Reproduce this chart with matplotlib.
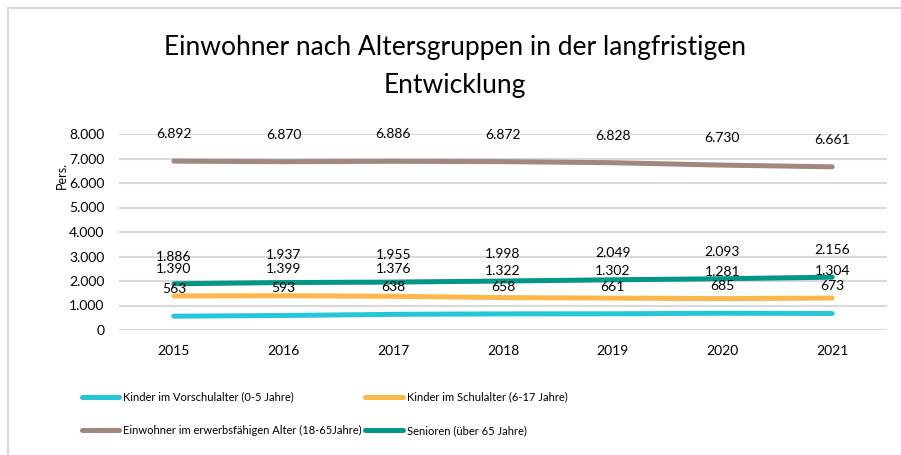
import numpy as np
import matplotlib.pyplot as plt
from matplotlib.lines import Line2D

years = ["2015", "2016", "2017", "2018", "2019", "2020", "2021"]
vorschule = [563, 593, 638, 658, 661, 685, 673]
schule = [1390, 1399, 1376, 1322, 1302, 1281, 1304]
erwerb = [6892, 6870, 6886, 6872, 6828, 6730, 6661]
senioren = [1886, 1937, 1955, 1998, 2049, 2093, 2156]

labels = [
    "Kinder im Vorschulalter (0-5 Jahre)",
    "Kinder im Schulalter (6-17 Jahre)",
    "Einwohner im erwerbsfähigen Alter (18-65Jahre)",
    "Senioren (über 65 Jahre)",
]
colors = ["#26C6DA", "#FFB74D", "#A1887F", "#009688"]
series = [vorschule, schule, erwerb, senioren]

plt.rcParams["font.family"] = ["Lato", "DejaVu Sans"]


def fmt(v):
    return f"{v:,}".replace(",", ".")


fig = plt.figure(figsize=(9.01, 4.55), dpi=100)
ax = fig.add_axes([119 / 901, 1 - 330 / 455, 768 / 901, 196 / 455])

x = np.arange(len(years))
for vals, col, lab in zip(series, colors, labels):
    ax.plot(x, vals, color=col, lw=3.6, solid_capstyle="round", label=lab)
    for xi, v in zip(x, vals):
        ax.annotate(fmt(v), (xi, v), xytext=(0, 19.5), textcoords="offset points",
                    ha="center", va="center", fontsize=10, color="#000000")

ax.set_xlim(-0.5, len(years) - 0.5)
ax.set_ylim(0, 8000)
ax.set_yticks(np.arange(0, 8001, 1000))
ax.set_yticklabels([fmt(v) for v in range(0, 8001, 1000)])
ax.set_xticks(x)
ax.set_xticklabels(years)
ax.tick_params(length=0, labelsize=10, colors="#000000")
ax.tick_params(axis="y", pad=10.5)
ax.tick_params(axis="x", pad=11)
ax.grid(axis="y", color="#d9d9d9", lw=1.5)
ax.set_axisbelow(True)
for s in ax.spines.values():
    s.set_visible(False)

fig.text(62 / 901, 1 - 175 / 455, "Pers.", rotation=90, ha="center", va="center", fontsize=9)

fig.text(455 / 901, 1 - 48 / 455, "Einwohner nach Altersgruppen in der langfristigen",
         ha="center", va="center", fontsize=19)
fig.text(455 / 901, 1 - 85 / 455, "Entwicklung", ha="center", va="center", fontsize=19)

order = [0, 2, 1, 3]
leg_handles = [Line2D([0], [0], color=colors[i], lw=3.6, solid_capstyle="round") for i in order]
fig.legend(leg_handles, [labels[i] for i in order], loc="upper left",
           bbox_to_anchor=(76 / 901, 1 - 386 / 455), ncol=2, frameon=False,
           fontsize=8, handlelength=3.4, handletextpad=0.36, columnspacing=0.3,
           labelspacing=2.05, borderpad=0)

# chart frame (top and left edges)
fig.add_artist(Line2D([8 / 901, 1], [1 - 8 / 455, 1 - 8 / 455], color="#d9d9d9", lw=1.5,
                      transform=fig.transFigure))
fig.add_artist(Line2D([8 / 901, 8 / 901], [0, 1 - 8 / 455], color="#d9d9d9", lw=1.5,
                      transform=fig.transFigure))

fig.savefig("out.png", dpi=100)
